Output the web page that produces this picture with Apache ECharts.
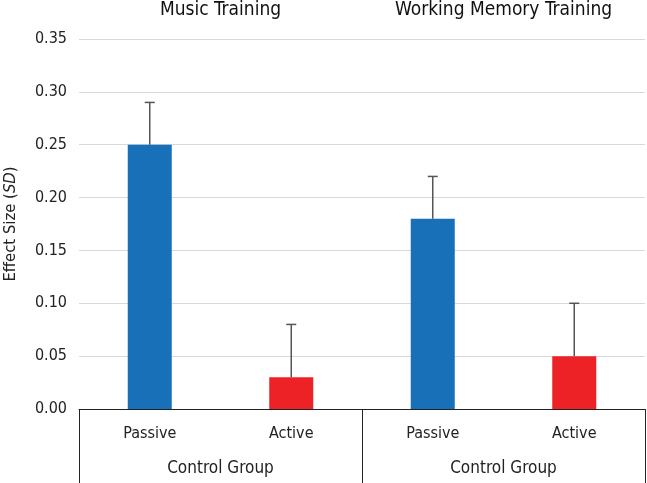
<!DOCTYPE html>
<html>
<head>
<meta charset="utf-8">
<script src="https://cdn.jsdelivr.net/npm/echarts@6/dist/echarts.min.js"></script>
<style>
  html, body { margin: 0; padding: 0; background: #fff; }
  #chart { width: 647px; height: 483px; }
</style>
</head>
<body>
<div id="chart"></div>
<script>
const conditions = ["Passive", "Active", "Passive", "Active"];
const groups = ["Control Group", "Control Group"];
const trainings = ["Music Training", "Working Memory Training"];
const effectSize = [0.25, 0.03, 0.18, 0.05];
const errorTop = [0.29, 0.08, 0.22, 0.10];
const barColors = ["#1870b9", "#ec2227", "#1870b9", "#ec2227"];
const yTicks = [0, 0.35, 0.05]; // min, max, step

const font = "'Liberation Sans Narrow', 'DejaVu Sans Condensed', 'Liberation Sans', sans-serif";

const chart = echarts.init(document.getElementById("chart"));

const option = {
    animation: false,
    grid: { left: 79, right: 2, top: 39, bottom: 74, containLabel: false, outerBoundsMode: "none" },
    xAxis: [
        {
            type: "category",
            data: conditions,
            axisLine: { show: true, lineStyle: { color: "#222", width: 1 } },
            axisTick: { show: false },
            axisLabel: { margin: 17, fontSize: 16, color: "#222", fontFamily: font }
        },
        {
            type: "category",
            data: groups,
            position: "bottom",
            axisLine: { show: false },
            axisTick: { show: true, length: 80, lineStyle: { color: "#222" } },
            axisLabel: { margin: 51, fontSize: 17, color: "#222", fontFamily: font }
        },
        {
            type: "category",
            data: trainings,
            position: "top",
            axisLine: { show: false },
            axisTick: { show: false },
            axisLabel: { margin: 19, fontSize: 19, color: "#111", fontFamily: font }
        }
    ],
    yAxis: {
        type: "value",
        min: yTicks[0],
        max: yTicks[1],
        interval: yTicks[2],
        name: "{n|Effect Size (}{i|SD}{n|)}",
        nameLocation: "middle",
        nameGap: 60,
        nameTextStyle: {
            rich: {
                n: { fontSize: 16.5, color: "#222", fontFamily: font },
                i: { fontSize: 16.5, color: "#222", fontFamily: font, fontStyle: "italic" }
            }
        },
        axisLine: { show: false },
        axisTick: { show: false },
        axisLabel: {
            margin: 12,
            fontSize: 16,
            color: "#222",
            fontFamily: font,
            formatter: v => v.toFixed(2)
        },
        splitLine: { lineStyle: { color: "#d9d9d9", width: 1 } }
    },
    series: [
        {
            type: "bar",
            xAxisIndex: 0,
            barWidth: 44,
            data: effectSize.map((v, i) => ({ value: v, itemStyle: { color: barColors[i] } }))
        },
        {
            type: "custom",
            xAxisIndex: 0,
            z: 5,
            data: effectSize.map((v, i) => [i, v, errorTop[i]]),
            renderItem: (params, api) => {
                const base = api.coord([api.value(0), api.value(1)]);
                const top = api.coord([api.value(0), api.value(2)]);
                const style = { stroke: "#555", lineWidth: 1.5 };
                return {
                    type: "group",
                    children: [
                        { type: "line", shape: { x1: base[0], y1: base[1], x2: top[0], y2: top[1] }, style },
                        { type: "line", shape: { x1: top[0] - 5, y1: top[1], x2: top[0] + 5, y2: top[1] }, style }
                    ]
                };
            }
        }
    ]
};

chart.setOption(option);
</script>
</body>
</html>
